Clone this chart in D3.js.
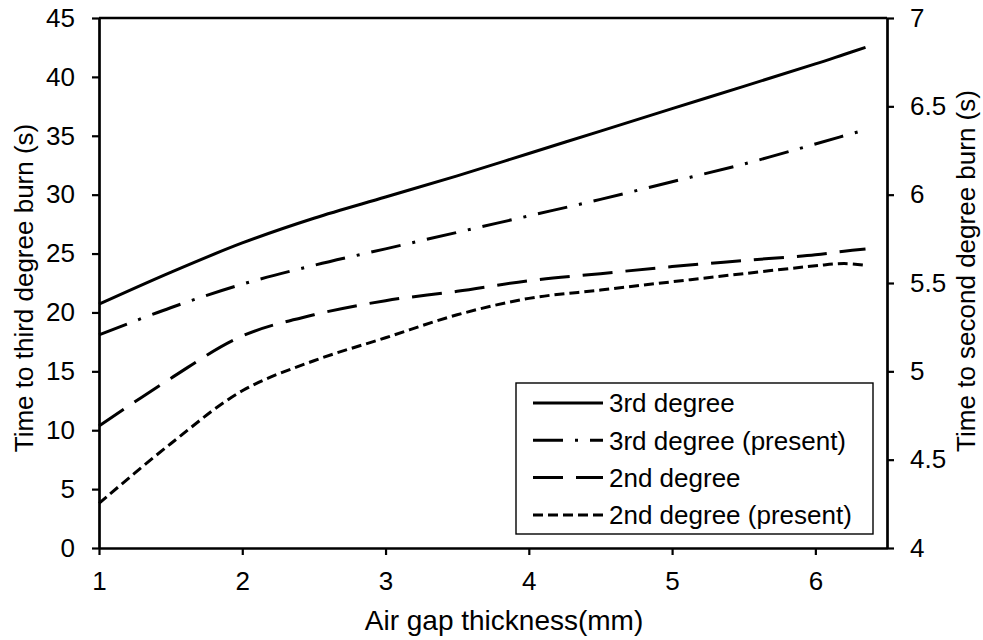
<!DOCTYPE html>
<html>
<head>
<meta charset="utf-8">
<script src="https://cdn.jsdelivr.net/npm/d3@7"></script>
<style>
  html, body { margin: 0; padding: 0; background: #fff; }
  svg { display: block; }
  text { font-family: "Liberation Sans", Arial, sans-serif; fill: #000; }
</style>
</head>
<body>
<svg id="chart" width="983" height="640"></svg>
<script>
// ---- Data ----
const airGap = [1, 1.5, 2, 2.5, 3, 3.5, 4, 4.5, 5, 5.5, 6, 6.2, 6.35];
// left axis (s): time to third degree burn
const thirdDegree        = [20.7, 23.4, 25.9, 28.0, 29.8, 31.6, 33.5, 35.4, 37.3, 39.2, 41.1, 41.9, 42.5];
const thirdDegreePresent = [18.1, 20.4, 22.4, 24.0, 25.4, 26.8, 28.2, 29.6, 31.1, 32.6, 34.3, 35.0, 35.5];
// right axis (s): time to second degree burn
const secondDegree        = [4.69, 4.96, 5.20, 5.32, 5.40, 5.453, 5.513, 5.553, 5.593, 5.627, 5.66, 5.68, 5.693];
const secondDegreePresent = [4.253, 4.59, 4.89, 5.06, 5.19, 5.32, 5.413, 5.46, 5.507, 5.553, 5.597, 5.61, 5.60];

const xTicks = [1, 2, 3, 4, 5, 6];
const yLeftTicks = [0, 5, 10, 15, 20, 25, 30, 35, 40, 45];
const yRightTicks = [4, 4.5, 5, 5.5, 6, 6.5, 7];
const legendLabels = ["3rd degree", "3rd degree (present)", "2nd degree", "2nd degree (present)"];

// ---- Layout ----
const W = 983, H = 640;
const margin = {left: 99, right: 96, top: 18, bottom: 92};
const FS = 26;
const svg = d3.select("#chart");

const x = d3.scaleLinear().domain([1, 6.5]).range([margin.left, W - margin.right]);
const yL = d3.scaleLinear().domain([0, 45]).range([H - margin.bottom, margin.top]);
const yR = d3.scaleLinear().domain([4, 7]).range([H - margin.bottom, margin.top]);

const series = [
  {label: legendLabels[0], vals: thirdDegree, y: yL, dash: null},
  {label: legendLabels[1], vals: thirdDegreePresent, y: yL, dash: "30,12,3,12"},
  {label: legendLabels[2], vals: secondDegree, y: yR, dash: "30,13"},
  {label: legendLabels[3], vals: secondDegreePresent, y: yR, dash: "10,5"}
];

// lines
series.forEach(s => {
  const line = d3.line()
    .x((d, i) => x(airGap[i]))
    .y(d => s.y(d))
    .curve(d3.curveCatmullRom.alpha(0.5));
  svg.append("path")
    .attr("d", line(s.vals))
    .attr("fill", "none")
    .attr("stroke", "#000")
    .attr("stroke-width", 3)
    .attr("stroke-dasharray", s.dash);
});

// axes
function styleAxis(g) {
  g.selectAll("path").attr("stroke", "#000").attr("stroke-width", 2.7);
  g.selectAll("line").attr("stroke", "#000").attr("stroke-width", 2.2);
  g.selectAll("text").attr("font-size", FS).attr("font-family", '"Liberation Sans", Arial, sans-serif');
}

svg.append("g")
  .attr("transform", `translate(0,${H - margin.bottom})`)
  .call(d3.axisBottom(x).tickValues(xTicks).tickFormat(d3.format("d")).tickSizeInner(7).tickSizeOuter(0).tickPadding(17))
  .call(styleAxis);

svg.append("g")
  .attr("transform", `translate(${margin.left},0)`)
  .call(d3.axisLeft(yL).tickValues(yLeftTicks).tickFormat(d3.format("d")).tickSizeInner(7).tickSizeOuter(0).tickPadding(17))
  .call(styleAxis);

svg.append("g")
  .attr("transform", `translate(${W - margin.right},0)`)
  .call(d3.axisRight(yR).tickValues(yRightTicks).tickFormat(d => d3.format("")(d)).tickSizeInner(7).tickSizeOuter(0).tickPadding(16))
  .call(styleAxis);

// top border
svg.append("line")
  .attr("x1", margin.left).attr("x2", W - margin.right)
  .attr("y1", margin.top).attr("y2", margin.top)
  .attr("stroke", "#000").attr("stroke-width", 2.7);

// axis titles
svg.append("text")
  .attr("x", 504).attr("y", 630)
  .attr("text-anchor", "middle").attr("font-size", 28)
  .text("Air gap thickness(mm)");

svg.append("text")
  .attr("transform", `translate(33,${(margin.top + H - margin.bottom) / 2 + 5}) rotate(-90)`)
  .attr("text-anchor", "middle").attr("font-size", FS)
  .text("Time to third degree burn (s)");

svg.append("text")
  .attr("transform", `translate(975,${(margin.top + H - margin.bottom) / 2 - 12}) rotate(-90)`)
  .attr("text-anchor", "middle").attr("font-size", FS)
  .text("Time to second degree burn (s)");

// legend
const lg = svg.append("g");
lg.append("rect")
  .attr("x", 516).attr("y", 383).attr("width", 357).attr("height", 151)
  .attr("fill", "#fff").attr("stroke", "#000").attr("stroke-width", 1.4);
series.forEach((s, i) => {
  const cy = 403 + i * 37.3;
  lg.append("line")
    .attr("x1", 533).attr("x2", 603).attr("y1", cy).attr("y2", cy)
    .attr("stroke", "#000").attr("stroke-width", 3)
    .attr("stroke-dasharray", s.dash);
  lg.append("text")
    .attr("x", 609).attr("y", cy).attr("dy", "0.36em")
    .attr("font-size", FS)
    .text(s.label);
});
</script>
</body>
</html>
